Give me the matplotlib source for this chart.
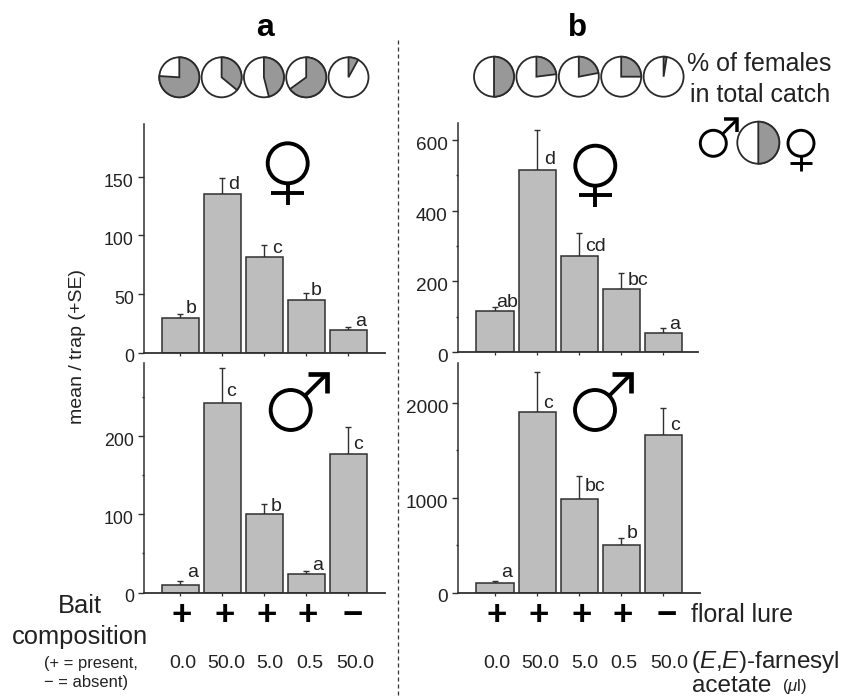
import matplotlib
matplotlib.use("Agg")
import matplotlib.pyplot as plt
from matplotlib.patches import Circle, Wedge
from matplotlib.transforms import ScaledTranslation

plt.rcParams['font.family'] = ['Liberation Sans', 'DejaVu Sans']
plt.rcParams['mathtext.fontset'] = 'custom'
plt.rcParams['mathtext.it'] = 'Liberation Sans:italic'
plt.rcParams['mathtext.rm'] = 'Liberation Sans'

W, H = 849, 697
INK = '#222222'

# mean and mean+SE
a_f = [29, 135, 81, 44.6, 19]
a_f_top = [32.7, 149, 91.5, 50.6, 21.6]
a_f_letters = ['b', 'd', 'c', 'b', 'a']
a_m = [9.4, 243, 100, 24, 177]
a_m_top = [15, 288, 114, 27, 212]
a_m_letters = ['a', 'c', 'b', 'a', 'c']
b_f = [115, 515, 272, 179, 53]
b_f_top = [127, 627, 336, 223, 68]
b_f_letters = ['ab', 'd', 'cd', 'bc', 'a']
b_m = [102, 1902, 989, 502, 1663]
b_m_top = [116, 2316, 1228, 576, 1944]
b_m_letters = ['a', 'c', 'bc', 'b', 'c']

# % females in catch
a_pies = [76, 36, 46, 65, 8]
b_pies = [50, 23, 22, 25, 2.5]
floral = ['+', '+', '+', '+', '\u2212']
doses = ['0.0', '50.0', '5.0', '0.5', '50.0']


def make_ax(left, right, top, bottom):
    return fig.add_axes([left / W, 1 - bottom / H, (right - left) / W, (bottom - top) / H])


def panel(box, vals, tops, letters, ymax, ticks, minor, offs, x0, dx, lsize):
    ax = make_ax(*box)
    x = range(5)
    ax.bar(x, vals, width=37 / dx, color='#bdbdbd', edgecolor='#303030', linewidth=1.1, zorder=2)
    err = [t - v for t, v in zip(tops, vals)]
    ax.errorbar(x, vals, yerr=[[0] * 5, err], fmt='none', ecolor='#303030', elinewidth=1.0,
                capsize=2.2, capthick=1.0, zorder=1)
    for i, s in enumerate(letters):
        ax.annotate(s, (i, tops[i]), xytext=offs[i], textcoords='offset pixels', ha='center',
                    va='baseline', fontsize=14, color=INK)
    ax.set_xlim((box[0] - x0) / dx, (box[1] - x0) / dx)
    ax.set_ylim(0, ymax)
    ax.set_xticks(list(x))
    ax.set_xticklabels([])
    ax.set_yticks(ticks)
    ax.set_yticks(minor, minor=True)
    ax.tick_params(axis='y', which='major', length=4.3, width=1.0, labelsize=lsize, pad=3, color='#303030',
                   labelcolor=INK)
    ax.tick_params(axis='y', which='minor', length=1.8, width=1.0, color='#303030')
    ax.tick_params(axis='x', length=2, width=0.9, color='#303030')
    # labels sit a little below their ticks in the reference
    shift = ScaledTranslation(0, -3.5 / 100, fig.dpi_scale_trans)
    for lab in ax.get_yticklabels():
        lab.set_transform(lab.get_transform() + shift)
    ax.spines['top'].set_visible(False)
    ax.spines['right'].set_visible(False)
    ax.spines['left'].set_linewidth(1.1)
    ax.spines['left'].set_color('#303030')
    ax.spines['bottom'].set_linewidth(1.3)
    ax.spines['bottom'].set_color('#303030')
    ax.patch.set_alpha(0)
    return ax


def pie(cx, cy, r, pct):
    ov.add_patch(Circle((cx, cy), r, fc='white', ec='#2a2a2a', lw=1.3, zorder=3))
    # y axis of overlay is flipped, so clockwise from 12 o'clock runs from -90 upward
    ov.add_patch(Wedge((cx, cy), r, -90, -90 + 3.6 * pct, fc='#989898', ec='#2a2a2a', lw=1.3, zorder=4))


def female(cx, cy, r, lw, arm, tail):
    ov.add_patch(Circle((cx, cy), r, fc='none', ec='black', lw=lw))
    ov.plot([cx, cx], [cy + r, cy + r + tail], color='black', lw=lw, solid_capstyle='butt')
    ov.plot([cx - arm, cx + arm], [cy + r + tail * 0.46] * 2, color='black', lw=lw, solid_capstyle='butt')


def male(cx, cy, r, lw, reach, head):
    tip = (cx + reach, cy - reach)
    ov.add_patch(Circle((cx, cy), r, fc='none', ec='black', lw=lw))
    ov.plot([cx + r * 0.7, tip[0]], [cy - r * 0.7, tip[1]], color='black', lw=lw, solid_capstyle='butt')
    ov.plot([tip[0] - head, tip[0], tip[0]], [tip[1], tip[1], tip[1] + head], color='black',
            lw=lw * 1.2, solid_joinstyle='miter', solid_capstyle='butt')


fig = plt.figure(figsize=(W / 100, H / 100), dpi=100)

xa, dxa = 180.3, 42
xb, dxb = 495, 42

panel((144, 385, 124, 352.5), a_f, a_f_top, a_f_letters, 194.8, [0, 50, 100, 150], [],
      [(10.5, 1), (11.6, -11.7), (13, -8), (10, -2), (12, 1)], xa, dxa, 12.8)
panel((144, 385, 363, 592.5), a_m, a_m_top, a_m_letters, 294, [0, 100, 200], [50, 150, 250],
      [(12.3, 3.3), (9, -28.7), (11.7, -7.4), (11.6, 1), (9.7, -21.7)], xa, dxa, 12.8)
panel((458, 698, 123, 352), b_f, b_f_top, b_f_letters, 648, [0, 200, 400, 600], [100, 300, 500],
      [(12.4, 0), (13, -34), (16.3, -17.4), (16.7, -11.7), (11.7, -1)], xb, dxb, 13.7)
panel((458.5, 700, 363, 592.5), b_m, b_m_top, b_m_letters, 2416, [0, 1000, 2000], [500, 1500],
      [(11.3, 4), (10.7, -36), (16.3, -15.6), (11, 0), (11.8, -22.6)], xb, dxb, 13.7)

# overlay in pixel units for pies, symbols and free text
ov = fig.add_axes([0, 0, 1, 1], zorder=5)
ov.set_xlim(0, W)
ov.set_ylim(H, 0)
ov.axis('off')
ov.patch.set_alpha(0)

ov.plot([397.7, 397.7], [40, 697], color='#333333', lw=0.9, ls=(0, (3.2, 2.4)))
ov.text(265, 36, 'a', fontsize=23, fontweight='bold', ha='center', va='baseline', color='black')
ov.text(577.5, 35.5, 'b', fontsize=22.5, fontweight='bold', ha='center', va='baseline', color='black')

for i, p in enumerate(a_pies):
    pie(179.3 + 42.3 * i, 77.3, 20, p)
for i, p in enumerate(b_pies):
    pie(494 + 42.4 * i, 76.7, 20, p)
pie(758.3, 142.7, 21, 50)

female(287.7, 163.3, 20, 2.8, 16.7, 21.7)
female(595.3, 165.7, 20, 2.8, 16.7, 21)
male(290.7, 410, 20, 2.8, 36, 19)
male(595, 410, 20, 2.8, 36, 19)
male(713.3, 143.3, 13, 2.1, 24, 13)
female(801, 143.3, 13, 2.1, 11, 14.4)

ov.text(687.3, 70.7, '% of females', fontsize=18, va='baseline', color=INK)
ov.text(690, 101.7, 'in total catch', fontsize=18, va='baseline', color=INK)
ov.text(78, 347, 'mean / trap (+SE)', fontsize=14, rotation=90, ha='center', va='center', color=INK)

ov.text(80, 613.3, 'Bait', fontsize=18.4, ha='center', va='baseline', color=INK)
ov.text(79.5, 644, 'composition', fontsize=18.4, ha='center', va='baseline', color=INK)
ov.text(44.3, 668, '(+ = present,', fontsize=11.9, va='baseline', color=INK)
ov.text(44, 686.7, '\u2212 = absent)', fontsize=11.9, va='baseline', color=INK)

for cx, s in zip([181.7, 224.3, 266.7, 307.7, 352.3], floral):
    ov.text(cx, 615.5, s, fontsize=25, fontweight='bold', ha='center', va='center', color='black')
for cx, s in zip([496.7, 539, 581.3, 622.7, 666.7], floral):
    ov.text(cx, 615.5, s, fontsize=25, fontweight='bold', ha='center', va='center', color='black')
for cx, s in zip([182.7, 226, 270, 310, 355], doses):
    ov.text(cx, 668, s, fontsize=14, ha='center', va='baseline', color=INK)
for cx, s in zip([496.7, 540.7, 584.3, 624, 669], doses):
    ov.text(cx, 668, s, fontsize=14, ha='center', va='baseline', color=INK)

ov.text(691, 621.7, 'floral lure', fontsize=17.9, va='baseline', color=INK)
ov.text(691, 668, r'($\mathit{E{,}E}$)-farnesyl', fontsize=17.5, va='baseline', color=INK)
ov.text(692.3, 691.5, 'acetate', fontsize=17.5, va='baseline', color=INK)
ov.text(782, 691.5, '($\\mu$l)', fontsize=12, va='baseline', color=INK)

fig.savefig('out.png', dpi=100)
